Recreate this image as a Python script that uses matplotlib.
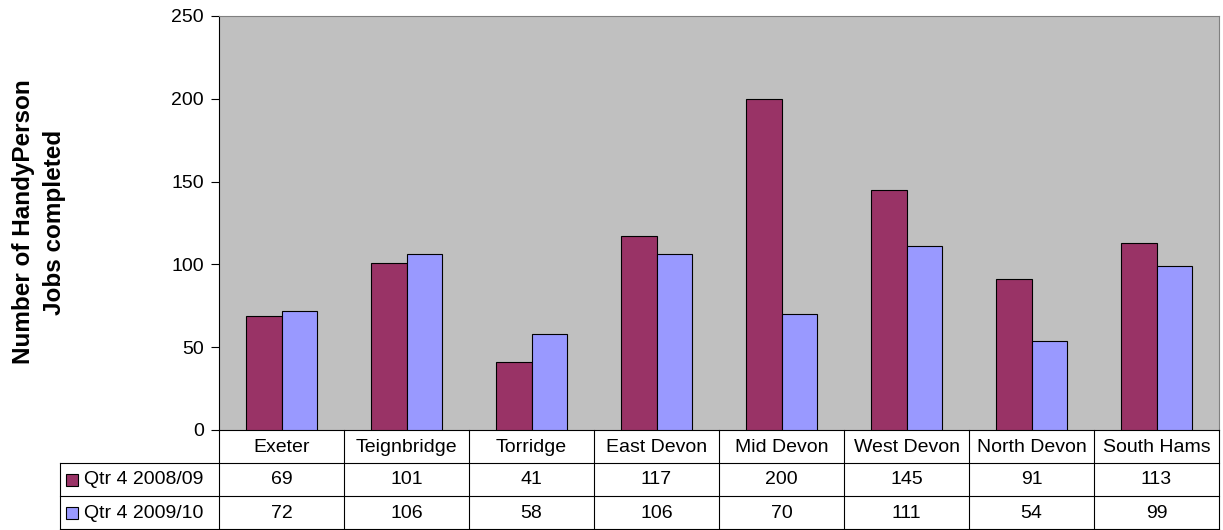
#!/usr/bin/env python3
import matplotlib
matplotlib.use('Agg')
import matplotlib.pyplot as plt
from matplotlib.patches import Rectangle
from matplotlib.lines import Line2D

areas = ['Exeter', 'Teignbridge', 'Torridge', 'East Devon', 'Mid Devon',
         'West Devon', 'North Devon', 'South Hams']
series_names = ['Qtr 4 2008/09', 'Qtr 4 2009/10']
jobs_0809 = [69, 101, 41, 117, 200, 145, 91, 113]
jobs_0910 = [72, 106, 58, 106, 70, 111, 54, 99]
colors = ['#993366', '#9999FF']

plt.rcParams['font.family'] = ['Liberation Sans', 'DejaVu Sans']

W, H = 1223, 530
fig = plt.figure(figsize=(W / 100, H / 100), dpi=100)
fig.patch.set_facecolor('white')

left_px, right_px, top_px, bottom_px = 219, 1219, 16, 430
ax = fig.add_axes([left_px / W, 1 - bottom_px / H,
                   (right_px - left_px) / W, (bottom_px - top_px) / H])
ax.set_facecolor('#C0C0C0')

x = list(range(len(areas)))
bw = 0.285
ax.bar([i - bw / 2 for i in x], jobs_0809, width=bw, color=colors[0],
       edgecolor='black', linewidth=0.8, zorder=3)
ax.bar([i + bw / 2 for i in x], jobs_0910, width=bw, color=colors[1],
       edgecolor='black', linewidth=0.8, zorder=3)

ax.set_xlim(-0.5, len(areas) - 0.5)
ax.set_ylim(0, 250)
ax.set_yticks([0, 50, 100, 150, 200, 250])
ax.tick_params(axis='y', direction='out', length=6, width=0.8, labelsize=14,
               pad=5, colors='black')
ax.set_xticks([])
ax.spines['left'].set_color('black')
ax.spines['bottom'].set_color('black')
ax.spines['top'].set_color('#808080')
ax.spines['right'].set_color('#808080')

fig.text(39 / W, 1 - 222 / H, 'Number of HandyPerson\nJobs completed',
         rotation=90, ha='center', va='center', fontsize=17.5, fontweight='bold',
         linespacing=1.4)


def fx(px):
    return px / W


def fy(py):
    return 1 - py / H


# data table below the plot
row_h = 33
lab_left = 60
col_w = (right_px - left_px) / len(areas)
lc = 'black'
for yp in [463, 496, 529]:
    fig.add_artist(Line2D([fx(lab_left), fx(right_px)], [fy(yp), fy(yp)], color=lc, lw=0.8))
fig.add_artist(Line2D([fx(lab_left), fx(lab_left)], [fy(463), fy(529)], color=lc, lw=0.8))
for k in range(len(areas) + 1):
    xp = left_px + k * col_w
    fig.add_artist(Line2D([fx(xp), fx(xp)], [fy(430), fy(529)], color=lc, lw=0.8))

fs = 14
for k, name in enumerate(areas):
    cx = left_px + (k + 0.5) * col_w
    fig.text(fx(cx), fy(447), name, ha='center', va='center', fontsize=fs)
    fig.text(fx(cx), fy(480), str(jobs_0809[k]), ha='center', va='center', fontsize=fs)
    fig.text(fx(cx), fy(513), str(jobs_0910[k]), ha='center', va='center', fontsize=fs)

for r, (name, col) in enumerate(zip(series_names, colors)):
    yc = 480 + r * row_h
    fig.add_artist(Rectangle((fx(66), fy(yc + 6)), 12 / W, 12 / H, facecolor=col,
                             edgecolor='black', lw=0.8, transform=fig.transFigure))
    fig.text(fx(84), fy(yc), name, ha='left', va='center', fontsize=fs)

fig.savefig('out.png', dpi=100)
